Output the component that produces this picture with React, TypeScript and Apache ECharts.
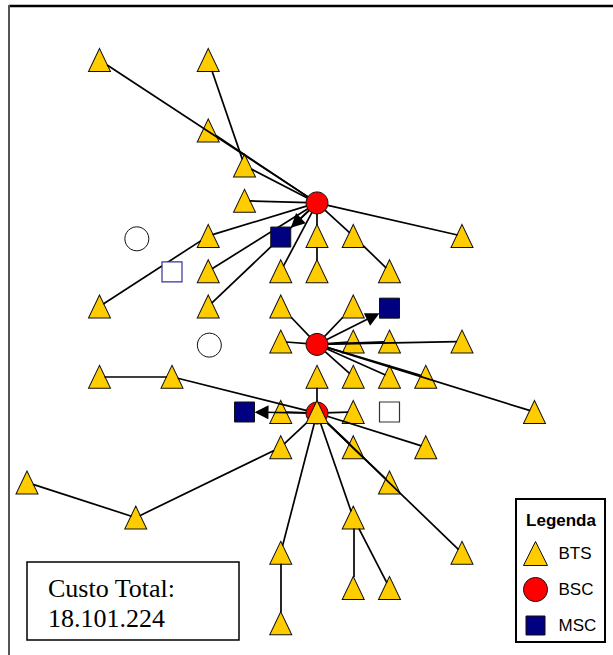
import React, { useEffect, useRef } from 'react';
import * as echarts from 'echarts';

// ---- data (grid column, grid row) ----
const btsNodes: [number, number][] = [
  [2, 0], [5, 0],
  [5, 2],
  [6, 3],
  [6, 4],
  [5, 5], [8, 5], [9, 5], [12, 5],
  [5, 6], [7, 6], [8, 6], [10, 6],
  [2, 7], [5, 7], [7, 7], [9, 7],
  [7, 8], [9, 8], [10, 8], [12, 8],
  [2, 9], [4, 9], [8, 9], [9, 9], [10, 9], [11, 9],
  [7, 10], [9, 10], [14, 10],
  [7, 11], [9, 11], [11, 11],
  [0, 12], [10, 12],
  [3, 13], [9, 13],
  [7, 14], [12, 14],
  [9, 15], [10, 15],
  [7, 16],
];
const btsOverBsc: [number, number][] = [[8, 10]];
const bscNodes: [number, number][] = [[8, 4.06], [8, 8.08], [8, 10.03]];
const mscNodes: [number, number][] = [[7, 5.03], [10, 7.05], [6, 10]];
const unusedBsc: [number, number][] = [[3.03, 5.08], [5.03, 8.1]];
const unusedMsc: [number, number][] = [[4, 6.02], [10, 10]];

const btsLinks: [string, string][] = [
  ['2,0', 'B1'], ['5,2', 'B1'], ['5,0', '6,3'], ['6,3', 'B1'], ['6,4', 'B1'],
  ['5,5', 'B1'], ['2,7', '5,5'], ['5,6', 'B1'], ['5,7', 'B1'], ['7,6', 'B1'],
  ['8,5', 'B1'], ['8,6', '8,5'], ['9,5', 'B1'], ['10,6', '9,5'], ['12,5', 'B1'],
  ['7,7', 'B2'], ['7,8', 'B2'], ['9,7', 'B2'], ['9,8', 'B2'], ['10,8', 'B2'],
  ['12,8', 'B2'], ['9,9', 'B2'], ['10,9', 'B2'], ['11,9', 'B2'], ['14,10', 'B2'],
  ['8,9', 'B3'], ['7,10', 'B3'], ['9,10', 'B3'], ['2,9', '4,9'], ['4,9', 'B3'],
  ['7,11', 'B3'], ['3,13', '7,11'], ['0,12', '3,13'], ['7,14', 'B3'], ['7,16', '7,14'],
  ['9,11', 'B3'], ['10,12', 'B3'], ['12,14', 'B3'], ['11,11', 'B3'], ['9,13', 'B3'],
  ['9,15', '9,13'], ['10,15', '9,13'],
];
const mscLinks: [string, string][] = [['B1', 'M1'], ['B2', 'M2'], ['B3', 'M3']];

const legendNames = ['BTS', 'BSC', 'MSC'];
const legendTitle = 'Legenda';
const costLabel = 'Custo Total:';
const costValue = '18.101.224';

// ---- layout constants ----
const CELL_X = 36.25;
const CELL_Y = 35.2;
const TRI_W = 22;
const TRI_H = 23;
const SQ = 20;
const ARROW: [number, number] = [12, 14];

const nodePos: Record<string, [number, number]> = {};
[...btsNodes, ...btsOverBsc].forEach((p) => { nodePos[`${p[0]},${p[1] | 0}`] = p; });
bscNodes.forEach((p, i) => { nodePos[`B${i + 1}`] = p; });
mscNodes.forEach((p, i) => { nodePos[`M${i + 1}`] = p; });
const isBts = (k: string) => !k.startsWith('B') && !k.startsWith('M');

function triExit(ux: number, uy: number) {
  const a = TRI_W / 2, b = TRI_H / 2;
  const ts: number[] = [];
  if (uy > 1e-6) ts.push(b / uy);
  const dr = 2 * b * ux - a * uy;
  if (dr > 1e-6) ts.push((a * b) / dr);
  const dl = -2 * b * ux - a * uy;
  if (dl > 1e-6) ts.push((a * b) / dl);
  return Math.min(...ts);
}

function trimmedLink(fromKey: string, toKey: string) {
  const A = nodePos[fromKey], B = nodePos[toKey];
  const dx = (B[0] - A[0]) * CELL_X, dy = (B[1] - A[1]) * CELL_Y;
  const len = Math.hypot(dx, dy);
  const ux = dx / len, uy = dy / len;
  let s: [number, number] = [A[0], A[1]];
  let e: [number, number] = [B[0], B[1]];
  if (isBts(fromKey)) {
    const t = triExit(ux, uy) - 0.5;
    s = [A[0] + (t * ux) / CELL_X, A[1] + (t * uy) / CELL_Y];
  }
  if (isBts(toKey)) {
    const t = triExit(-ux, -uy) - 0.5;
    e = [B[0] - (t * ux) / CELL_X, B[1] - (t * uy) / CELL_Y];
  }
  return { coords: [s, e] };
}

function arrowLink(fromKey: string, toKey: string) {
  const A = nodePos[fromKey], B = nodePos[toKey];
  const dx = (B[0] - A[0]) * CELL_X, dy = (B[1] - A[1]) * CELL_Y;
  const len = Math.hypot(dx, dy);
  const ux = dx / len, uy = dy / len;
  const edge = (SQ / 2) / Math.max(Math.abs(ux), Math.abs(uy));
  const t = edge + ARROW[1] / 2;
  return { coords: [[A[0], A[1]], [B[0] - (t * ux) / CELL_X, B[1] - (t * uy) / CELL_Y]] };
}

const SANS = '"Liberation Sans", Arial, sans-serif';
const SERIF = '"Liberation Serif", "Times New Roman", serif';

export default function App() {
  const ref = useRef<HTMLDivElement>(null);
  useEffect(() => {
    if (!ref.current) return;
    const chart = echarts.init(ref.current, null, { renderer: 'svg' });
    const btsStyle = { color: '#FFCC00', borderColor: '#111', borderWidth: 1, opacity: 1 };
    chart.setOption({
      animation: false,
      backgroundColor: '#ffffff',
      grid: { left: 27, top: 60, width: CELL_X * 16, height: CELL_Y * 16 },
      xAxis: { type: 'value', min: 0, max: 16, show: false, splitLine: { show: false } },
      yAxis: { type: 'value', min: 0, max: 16, inverse: true, show: false, splitLine: { show: false } },
      legend: {
        left: 523, top: 541, orient: 'vertical', padding: 0,
        itemWidth: 24, itemHeight: 24, itemGap: 11, selectedMode: false,
        itemStyle: { borderColor: '#111', borderWidth: 1, opacity: 1 },
        textStyle: { fontSize: 17, fontFamily: SANS, color: '#000', padding: [0, 0, 0, 6] },
        data: [
          { name: legendNames[0] },
          { name: legendNames[1] },
          { name: legendNames[2], icon: 'path://M0,0M24,24M2.5,2.5h19v19h-19z' },
        ],
        z: 10,
      },
      graphic: [
        { type: 'line', z: 1, shape: { x1: 9, y1: 6, x2: 613, y2: 6 }, style: { stroke: '#000', lineWidth: 2.5 } },
        { type: 'line', z: 1, shape: { x1: 9, y1: 5, x2: 9, y2: 655 }, style: { stroke: '#555', lineWidth: 2 } },
        { type: 'rect', z: 1, shape: { x: 27, y: 562, width: 212, height: 78 }, style: { fill: '#fff', stroke: '#000', lineWidth: 1.5 } },
        { type: 'text', z: 2, x: 48, y: 588, style: { text: costLabel, fontSize: 26, fontFamily: SERIF, fill: '#000', verticalAlign: 'middle' } },
        { type: 'text', z: 2, x: 48, y: 618, style: { text: costValue, fontSize: 26, fontFamily: SERIF, fill: '#000', verticalAlign: 'middle' } },
        { type: 'rect', z: 1, shape: { x: 516, y: 499, width: 89, height: 143 }, style: { fill: '#fff', stroke: '#000', lineWidth: 2 } },
        { type: 'text', z: 2, x: 561, y: 520, style: { text: legendTitle, fontSize: 17, fontWeight: 'bold', fontFamily: SANS, fill: '#000', align: 'center', verticalAlign: 'middle' } },
      ],
      series: [
        {
          name: 'BTS', type: 'scatter', z: 2, clip: false, silent: true,
          symbol: 'triangle', symbolSize: [TRI_W, TRI_H], itemStyle: btsStyle,
          emphasis: { disabled: true }, data: btsNodes,
        },
        {
          type: 'lines', coordinateSystem: 'cartesian2d', z: 3, clip: false, silent: true,
          symbol: ['none', 'none'], lineStyle: { color: '#000', width: 1.7, opacity: 1 },
          data: btsLinks.map(([a, b]) => trimmedLink(a, b)),
        },
        {
          type: 'lines', coordinateSystem: 'cartesian2d', z: 3, clip: false, silent: true,
          symbol: ['none', 'triangle'], symbolSize: ARROW,
          lineStyle: { color: '#000', width: 1.7, opacity: 1 },
          data: mscLinks.map(([a, b]) => arrowLink(a, b)),
        },
        {
          name: 'BSC', type: 'scatter', z: 4, clip: false, silent: true,
          symbol: 'circle', symbolSize: 22,
          itemStyle: { color: '#FF0000', borderColor: '#111', borderWidth: 1, opacity: 1 },
          emphasis: { disabled: true }, data: bscNodes,
        },
        {
          name: 'MSC', type: 'scatter', z: 4, clip: false, silent: true,
          symbol: 'rect', symbolSize: SQ,
          itemStyle: { color: '#000080', borderColor: '#111', borderWidth: 1, opacity: 1 },
          emphasis: { disabled: true }, data: mscNodes,
        },
        {
          type: 'scatter', z: 4, clip: false, silent: true,
          symbol: 'circle', symbolSize: 24,
          itemStyle: { color: '#ffffff', borderColor: '#111', borderWidth: 1, opacity: 1 },
          emphasis: { disabled: true }, data: unusedBsc,
        },
        {
          type: 'scatter', z: 4, clip: false, silent: true,
          symbol: 'rect', symbolSize: SQ,
          itemStyle: { color: '#ffffff', borderColor: '#333399', borderWidth: 1.2, opacity: 1 },
          emphasis: { disabled: true },
          data: [
            { value: unusedMsc[0] },
            { value: unusedMsc[1], itemStyle: { borderColor: '#333333' } },
          ],
        },
        {
          name: 'BTS', type: 'scatter', z: 5, clip: false, silent: true,
          symbol: 'triangle', symbolSize: [TRI_W, TRI_H], itemStyle: btsStyle,
          emphasis: { disabled: true }, data: btsOverBsc,
        },
      ],
    });
    return () => chart.dispose();
  }, []);
  return (
    <div
      ref={ref}
      style={{ position: 'absolute', left: 0, top: 0, width: 613, height: 655, background: '#fff' }}
    />
  );
}
